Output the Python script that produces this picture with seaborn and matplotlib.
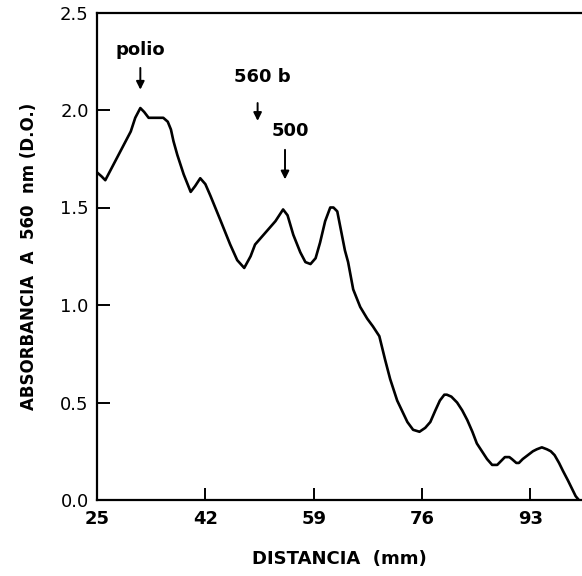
import numpy as np
import pandas as pd
import seaborn as sns
import matplotlib.pyplot as plt

# perfil de absorbancia
distancia = [25.0, 25.7, 26.3, 27.1, 27.9, 28.7, 29.5, 30.3, 31.0, 31.8,
             32.4, 33.1, 34.2, 35.4, 36.1, 36.6, 37.0, 37.6, 38.6, 39.7,
             40.4, 41.2, 42.0, 42.8, 44.3, 45.9, 47.0, 48.1, 49.1, 49.8,
             51.4, 53.0, 53.8, 54.2, 54.9, 55.8, 56.9, 57.7, 58.5, 59.3,
             60.0, 60.8, 61.6, 62.1, 62.7, 63.3, 63.9, 64.4, 65.2, 66.3,
             67.4, 68.3, 69.3, 70.2, 71.0, 72.1, 73.7, 74.6, 75.6, 76.5,
             77.3, 78.1, 78.8, 79.5, 79.9, 80.6, 81.5, 82.3, 83.1, 83.9,
             84.6, 85.6, 86.2, 87.0, 87.8, 88.4, 89.0, 89.7, 90.1, 90.8,
             91.2, 91.8, 92.6, 93.4, 94.0, 94.8, 95.6, 96.2, 96.8, 97.5,
             98.1, 98.9, 99.5, 100.1, 100.6]
absorbancia = [1.68, 1.66, 1.64, 1.69, 1.74, 1.79, 1.84, 1.89, 1.96, 2.01,
               1.99, 1.96, 1.96, 1.96, 1.94, 1.90, 1.84, 1.77, 1.67, 1.58,
               1.61, 1.65, 1.62, 1.56, 1.44, 1.31, 1.23, 1.19, 1.25, 1.31,
               1.37, 1.43, 1.47, 1.49, 1.46, 1.36, 1.27, 1.22, 1.21, 1.24,
               1.32, 1.43, 1.50, 1.50, 1.48, 1.38, 1.28, 1.22, 1.08, 0.99,
               0.93, 0.89, 0.84, 0.72, 0.62, 0.51, 0.40, 0.36, 0.35, 0.37,
               0.40, 0.46, 0.51, 0.54, 0.54, 0.53, 0.50, 0.46, 0.41, 0.35,
               0.29, 0.24, 0.21, 0.18, 0.18, 0.20, 0.22, 0.22, 0.21, 0.19,
               0.19, 0.21, 0.23, 0.25, 0.26, 0.27, 0.26, 0.25, 0.23, 0.19,
               0.15, 0.10, 0.06, 0.02, 0.00]

xticks = [25, 42, 59, 76, 93]
yticks = [0.0, 0.5, 1.0, 1.5, 2.0, 2.5]
ytick_labels = ["0.0", "0.5", "1.0", "1.5", "2.0", "2.5"]

# marcadores: texto, x de la flecha, y del texto, y inicio y fin de la flecha
marcas = ["polio", "560 b", "500"]
marca_x = [31.8, 50.2, 54.5]
marca_texto_x = [31.8, 51.0, 55.3]
marca_texto_y = [2.31, 2.17, 1.89]
flecha_ini = [2.23, 2.05, 1.81]
flecha_fin = [2.09, 1.93, 1.63]

df = pd.DataFrame({"distancia": distancia, "absorbancia": absorbancia})

sns.set_style("ticks")
plt.rcParams['font.family'] = ['DejaVu Sans']
plt.rcParams['text.color'] = 'black'
plt.rcParams['axes.labelcolor'] = 'black'
plt.rcParams['xtick.color'] = 'black'
plt.rcParams['ytick.color'] = 'black'

fig = plt.figure(figsize=(5.82, 5.76), dpi=100)
ax = fig.add_axes([97 / 582, 1 - 500 / 576, 1 - 97 / 582, 487.5 / 576])

sns.lineplot(data=df, x="distancia", y="absorbancia", color="black",
             linewidth=1.9, ax=ax)
for ln in ax.get_lines():
    ln.set_solid_joinstyle("round")
    ln.set_solid_capstyle("round")

ax.set_xlim(25, 101.1)
ax.set_ylim(0, 2.5)
ax.set_xticks(xticks)
ax.set_xticklabels([str(t) for t in xticks], fontsize=13, fontweight="bold")
ax.set_yticks(yticks)
ax.set_yticklabels(ytick_labels, fontsize=13)
ax.tick_params(axis="both", direction="in", length=9, width=1.4, color="black")
ax.tick_params(axis="x", pad=7)
ax.tick_params(axis="y", pad=6)

for side in ["left", "bottom", "top"]:
    ax.spines[side].set_linewidth(1.6)
    ax.spines[side].set_color("black")
ax.spines["right"].set_visible(False)

ax.set_xlabel("DISTANCIA  (mm)", fontsize=13, fontweight="bold", labelpad=16)
ax.set_ylabel("ABSORBANCIA  A  560  nm (D.O.)", fontsize=12, fontweight="bold",
              labelpad=16)

for txt, xa, xt, yt, y0, y1 in zip(marcas, marca_x, marca_texto_x,
                                   marca_texto_y, flecha_ini, flecha_fin):
    ax.text(xt, yt, txt, ha="center", va="center", fontsize=13,
            fontweight="bold")
    ax.annotate("", xy=(xa, y1), xytext=(xa, y0),
                arrowprops=dict(arrowstyle="-|>", color="black", lw=1.4,
                                mutation_scale=12))

fig.savefig("out.png", dpi=100, facecolor="white")
